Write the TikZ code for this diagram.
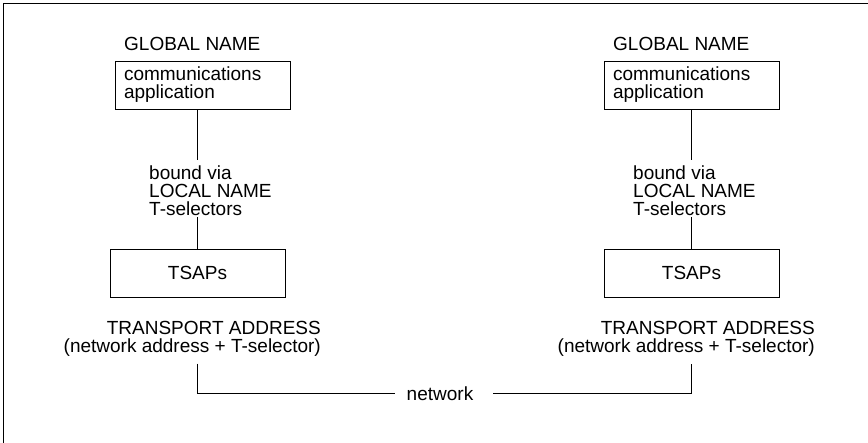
\documentclass[tikz,border=0pt]{standalone}
\usepackage{fontspec}
\setmainfont{Liberation Sans}
\usetikzlibrary{positioning}

\begin{document}
\begin{tikzpicture}[
  x=1pt, y=-1pt,
  every node/.style={font=\fontsize{19}{18}\selectfont},
  box/.style={rectangle, draw=black, line width=0.9pt, minimum width=175pt, minimum height=48pt, inner sep=0pt},
  appbox/.style={box, text width=157pt, align=left},
  label/.style={inner sep=0pt, align=left},
  link/.style={draw=black, line width=0.9pt},
]
\useasboundingbox (0,0) rectangle (868,443);

% Frame
\draw[line width=1pt] (3,443) -- (3,4) -- (868,4);

% Left system
\node[appbox] (app1) at (202.5,85) {communications\\application};
\node[label, anchor=base west] (gname1) at (124,51) {GLOBAL NAME};
\node[label, anchor=north west] (bound1) at (149,166) {bound via\\LOCAL NAME\\T-selectors};
\node[box] (tsap1) at (197.5,273) {TSAPs};
\node[label, align=right, anchor=north east] (taddr1) at (321,321) {TRANSPORT ADDRESS\\(network address + T-selector)};

% Right system
\node[appbox] (app2) at (691.5,85) {communications\\application};
\node[label, anchor=base west] (gname2) at (613,51) {GLOBAL NAME};
\node[label, anchor=north west] (bound2) at (633,166) {bound via\\LOCAL NAME\\T-selectors};
\node[box] (tsap2) at (691.5,273) {TSAPs};
\node[label, align=right, anchor=north east] (taddr2) at (815,321) {TRANSPORT ADDRESS\\(network address + T-selector)};

% Network
\node[label, anchor=base] (net) at (440,400.5) {network};

% Connections
\draw[link] (tsap1.north |- app1.south) -- ([yshift=6pt]tsap1.north |- bound1.north);
\draw[link] ([yshift=-1pt]tsap1.north |- bound1.south) -- (tsap1.north);
\draw[link] (tsap2.north |- app2.south) -- ([yshift=6pt]tsap2.north |- bound2.north);
\draw[link] ([yshift=-1pt]tsap2.north |- bound2.south) -- (tsap2.north);
\draw[link] ([yshift=-7pt]tsap1.south |- taddr1.south) |- ([xshift=-12pt]net.west);
\draw[link] ([xshift=20pt]net.east) -| ([yshift=-7pt]tsap2.south |- taddr2.south);

\end{tikzpicture}
\end{document}
